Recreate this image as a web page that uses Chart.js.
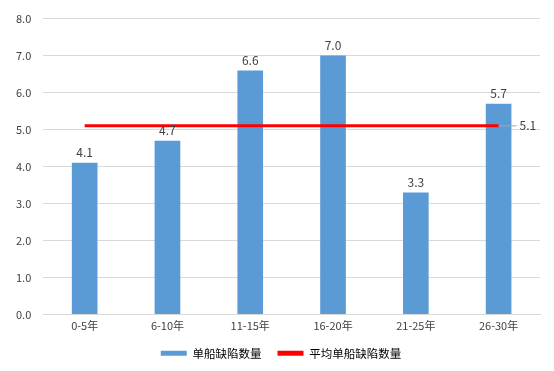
<!DOCTYPE html>
<html>
<head>
<meta charset="utf-8">
<script src="https://cdn.jsdelivr.net/npm/chart.js@4/dist/chart.umd.min.js"></script>
<style>
  html, body { margin: 0; padding: 0; background: #fff; }
  #wrap { width: 554px; height: 371px; }
</style>
</head>
<body>
<div id="wrap"><canvas id="chart" width="554" height="371"></canvas></div>
<script>
// data
let categories = ["0-5年", "6-10年", "11-15年", "16-20年", "21-25年", "26-30年"];
let defects = [4.1, 4.7, 6.6, 7.0, 3.3, 5.7];
let average = [5.1, 5.1, 5.1, 5.1, 5.1, 5.1];
let barName = "单船缺陷数量";
let lineName = "平均单船缺陷数量";

let fontFamily = '"Noto Sans CJK SC", "DejaVu Sans", sans-serif';
Chart.defaults.font.family = fontFamily;
Chart.defaults.color = "#595959";

// labels above the bars + the 5.1 label with its leader line
let valueLabels = {
  id: "valueLabels",
  afterLayout(chart) {
    // legend sits a little right of centre in the original
    chart.legend.left += 9;
    chart.legend.right += 9;
  },
  afterDatasetsDraw(chart) {
    let ctx = chart.ctx;
    ctx.save();
    ctx.font = "12px " + fontFamily;
    ctx.fillStyle = "#404040";
    ctx.textAlign = "center";
    ctx.textBaseline = "bottom";
    chart.getDatasetMeta(0).data.forEach((bar, i) => {
      ctx.fillText(defects[i].toFixed(1), bar.x, bar.y - 4);
    });
    let pts = chart.getDatasetMeta(1).data;
    let last = pts[pts.length - 1];
    ctx.strokeStyle = "#a6a6a6";
    ctx.lineWidth = 1;
    ctx.beginPath();
    ctx.moveTo(last.x, last.y);
    ctx.lineTo(last.x + 18, last.y);
    ctx.stroke();
    ctx.textAlign = "left";
    ctx.textBaseline = "middle";
    ctx.fillText(average[average.length - 1].toFixed(1), last.x + 21, last.y);
    ctx.restore();
  }
};

new Chart("chart", {
  data: {
    labels: categories,
    datasets: [{
      type: "bar",
      label: barName,
      data: defects,
      backgroundColor: "#5b9bd5",
      categoryPercentage: 1,
      barPercentage: 0.31,
      order: 2
    }, {
      type: "line",
      label: lineName,
      data: average,
      borderColor: "#ff0000",
      backgroundColor: "#ff0000",
      borderWidth: 3,
      pointRadius: 0,
      order: 1
    }]
  },
  options: {
    responsive: false,
    animation: false,
    layout: { padding: { top: 12, right: 14, left: 4, bottom: 2 } },
    plugins: {
      tooltip: { enabled: false },
      legend: {
        position: "bottom",
        labels: {
          boxWidth: 26,
          boxHeight: 5,
          padding: 16,
          color: "#404040",
          font: { size: 11.5 },
          generateLabels(chart) {
            return chart.data.datasets.map((ds, i) => ({
              text: ds.label,
              fillStyle: i == 0 ? "#5b9bd5" : "#ff0000",
              strokeStyle: i == 0 ? "#5b9bd5" : "#ff0000",
              lineWidth: 0,
              datasetIndex: i
            }));
          }
        }
      }
    },
    scales: {
      x: {
        grid: { display: false, drawTicks: false },
        border: { color: "#d9d9d9" },
        ticks: { color: "#404040", font: { size: 11 }, padding: 5 },
        afterFit: (scale) => { scale.height = 17; }
      },
      y: {
        min: 0,
        max: 8,
        grid: { color: "#d9d9d9", drawTicks: false },
        border: { display: false },
        ticks: {
          stepSize: 1,
          padding: 12,
          color: "#404040",
          font: { size: 11 },
          callback: (v) => v.toFixed(1)
        }
      }
    }
  },
  plugins: [valueLabels]
});
</script>
</body>
</html>
